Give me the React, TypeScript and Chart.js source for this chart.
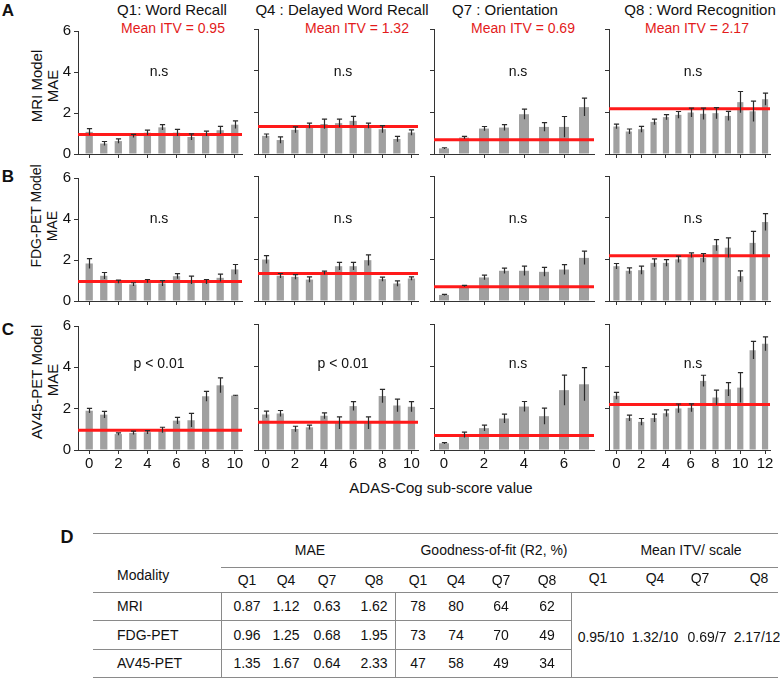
import React, { useEffect, useRef } from 'react';
import { Chart, registerables } from 'chart.js';

Chart.register(...registerables);

const FONT = '"Liberation Sans", Arial, Helvetica, sans-serif';
Chart.defaults.font.family = FONT;

// ---------- data ----------
const SCORES_Q1 = [0, 1, 2, 3, 4, 5, 6, 7, 8, 9, 10];
const SCORES_Q4 = [0, 1, 2, 3, 4, 5, 6, 7, 8, 9, 10];
const SCORES_Q7 = [0, 1, 2, 3, 4, 5, 6, 7];
const SCORES_Q8 = [0, 1, 2, 3, 4, 5, 6, 7, 8, 9, 10, 11, 12];

const X_TICKS_Q1 = [0, 2, 4, 6, 8, 10];
const X_TICKS_Q4 = [0, 2, 4, 6, 8, 10];
const X_TICKS_Q7 = [0, 2, 4, 6];
const X_TICKS_Q8 = [0, 2, 4, 6, 8, 10, 12];
const Y_TICKS = [0, 2, 4, 6];

const QUESTION_TITLES = ['Q1: Word Recall', 'Q4 : Delayed Word Recall', 'Q7 : Orientation', 'Q8 : Word Recognition'];
const MEAN_ITV = [0.95, 1.32, 0.69, 2.17];
const SCALE_MAX = [10, 10, 7, 12];

const MODEL_NAMES = ['MRI Model', 'FDG-PET Model', 'AV45-PET Model'];
const PANEL_LETTERS = ['A', 'B', 'C'];
const SIGNIFICANCE = [
  ['n.s', 'n.s', 'n.s', 'n.s'],
  ['n.s', 'n.s', 'n.s', 'n.s'],
  ['p < 0.01', 'p < 0.01', 'n.s', 'n.s'],
];

const MRI_Q1 = [1.08, 0.51, 0.63, 0.88, 1.04, 1.30, 1.04, 0.83, 1.00, 1.16, 1.43];
const MRI_Q1_ERR = [0.16, 0.10, 0.11, 0.08, 0.12, 0.13, 0.16, 0.15, 0.12, 0.19, 0.19];
const MRI_Q4 = [0.87, 0.67, 1.16, 1.36, 1.44, 1.48, 1.59, 1.36, 1.19, 0.72, 1.03];
const MRI_Q4_ERR = [0.09, 0.15, 0.14, 0.12, 0.23, 0.19, 0.22, 0.12, 0.17, 0.13, 0.13];
const MRI_Q7 = [0.27, 0.79, 1.22, 1.27, 1.91, 1.30, 1.30, 2.25];
const MRI_Q7_ERR = [0.03, 0.06, 0.10, 0.14, 0.24, 0.21, 0.50, 0.43];
const MRI_Q8 = [1.32, 1.08, 1.19, 1.54, 1.77, 1.88, 1.99, 1.93, 1.96, 1.83, 2.49, 2.05, 2.63];
const MRI_Q8_ERR = [0.11, 0.12, 0.14, 0.13, 0.12, 0.16, 0.21, 0.27, 0.27, 0.22, 0.51, 0.49, 0.29];

const FDG_Q1 = [1.83, 1.23, 0.94, 0.81, 0.97, 0.86, 1.21, 1.02, 0.94, 1.13, 1.54];
const FDG_Q1_ERR = [0.24, 0.16, 0.08, 0.08, 0.08, 0.13, 0.13, 0.19, 0.11, 0.18, 0.24];
const FDG_Q4 = [1.99, 1.21, 1.16, 1.03, 1.35, 1.67, 1.67, 1.96, 1.05, 0.84, 1.08];
const FDG_Q4_ERR = [0.19, 0.11, 0.11, 0.13, 0.08, 0.18, 0.18, 0.25, 0.10, 0.13, 0.08];
const FDG_Q7 = [0.29, 0.72, 1.13, 1.45, 1.45, 1.40, 1.51, 2.07];
const FDG_Q7_ERR = [0.03, 0.03, 0.11, 0.13, 0.22, 0.21, 0.24, 0.32];
const FDG_Q8 = [1.67, 1.45, 1.48, 1.83, 1.83, 2.00, 2.20, 2.07, 2.68, 2.56, 1.19, 2.79, 3.79];
const FDG_Q8_ERR = [0.13, 0.14, 0.19, 0.19, 0.16, 0.15, 0.11, 0.21, 0.27, 0.47, 0.26, 0.55, 0.40];

const AV45_Q1 = [1.90, 1.71, 0.77, 0.83, 0.86, 0.97, 1.42, 1.44, 2.60, 3.13, 2.63];
const AV45_Q1_ERR = [0.11, 0.16, 0.06, 0.08, 0.08, 0.13, 0.16, 0.33, 0.24, 0.36, 0.02];
const AV45_Q4 = [1.69, 1.74, 1.00, 1.08, 1.63, 1.29, 2.09, 1.29, 2.57, 2.12, 2.06];
const AV45_Q4_ERR = [0.16, 0.14, 0.13, 0.10, 0.14, 0.29, 0.21, 0.29, 0.32, 0.30, 0.24];
const AV45_Q7 = [0.32, 0.72, 1.04, 1.50, 2.07, 1.61, 2.85, 3.13];
const AV45_Q7_ERR = [0.03, 0.13, 0.14, 0.21, 0.24, 0.38, 0.72, 0.79];
const AV45_Q8 = [2.58, 1.52, 1.34, 1.52, 1.75, 1.98, 2.01, 3.29, 2.50, 2.89, 2.97, 4.75, 5.06];
const AV45_Q8_ERR = [0.16, 0.14, 0.16, 0.19, 0.16, 0.21, 0.19, 0.27, 0.35, 0.32, 0.71, 0.42, 0.33];

// table
const TABLE_MODALITIES = ['MRI', 'FDG-PET', 'AV45-PET'];
const TABLE_QUESTIONS = ['Q1', 'Q4', 'Q7', 'Q8'];
const TABLE_MAE_MRI = [0.87, 1.12, 0.63, 1.62];
const TABLE_MAE_FDG = [0.96, 1.25, 0.68, 1.95];
const TABLE_MAE_AV45 = [1.35, 1.67, 0.64, 2.33];
const TABLE_R2_MRI = [78, 80, 64, 62];
const TABLE_R2_FDG = [73, 74, 70, 49];
const TABLE_R2_AV45 = [47, 58, 49, 34];

// ---------- layout ----------
const SCORES = [SCORES_Q1, SCORES_Q4, SCORES_Q7, SCORES_Q8];
const X_TICKS = [X_TICKS_Q1, X_TICKS_Q4, X_TICKS_Q7, X_TICKS_Q8];
const VALUES = [
  [MRI_Q1, MRI_Q4, MRI_Q7, MRI_Q8],
  [FDG_Q1, FDG_Q4, FDG_Q7, FDG_Q8],
  [AV45_Q1, AV45_Q4, AV45_Q7, AV45_Q8],
];
const ERRORS = [
  [MRI_Q1_ERR, MRI_Q4_ERR, MRI_Q7_ERR, MRI_Q8_ERR],
  [FDG_Q1_ERR, FDG_Q4_ERR, FDG_Q7_ERR, FDG_Q8_ERR],
  [AV45_Q1_ERR, AV45_Q4_ERR, AV45_Q7_ERR, AV45_Q8_ERR],
];
const COLS = [
  { axisX: 78, endX: 242, xMin: -0.77, xMax: 10.5, titleX: 172, itvX: 173, sigX: 159 },
  { axisX: 258, endX: 418, xMin: -0.53, xMax: 10.45, titleX: 342, itvX: 357, sigX: 343 },
  { axisX: 434, endX: 594, xMin: -0.5, xMax: 7.5, titleX: 505, itvX: 523, sigX: 518 },
  { axisX: 609, endX: 770, xMin: -0.6, xMax: 12.4, titleX: 700, itvX: 697, sigX: 693 },
];
const ROWS = [
  { top: 29, h: 125, sigY: 71, letterY: 10, t1Y: 86, t2Y: 86, tSize: 15 },
  { top: 176, h: 125, sigY: 218, letterY: 176, t1Y: 216, t2Y: 226, tSize: 14 },
  { top: 324, h: 126, sigY: 363, letterY: 329, t1Y: 382, t2Y: 380, tSize: 15 },
];
const YW = 30;
const PT = 10;
const PR = 10;
const XH = 24;

const AXIS_COLOR = '#333';
const BAR_COLOR = '#a0a0a0';
const RED = '#ff1a1a';
const RED_TEXT = '#e31b1b';

type PanelProps = {
  row: number;
  col: number;
};

function Panel({ row, col }: PanelProps) {
  const ref = useRef<HTMLCanvasElement | null>(null);
  const c = COLS[col];
  const r = ROWS[row];
  const width = YW + (c.endX - c.axisX) + PR;
  const height = PT + r.h + XH;
  const left = c.axisX - YW;
  const top = r.top - PT;

  useEffect(() => {
    const values = VALUES[row][col];
    const errs = ERRORS[row][col];
    const itv = MEAN_ITV[col];
    const xTicks = X_TICKS[col];
    const errorBars = {
      id: 'errorBars',
      afterDatasetsDraw(chart: any) {
        const meta = chart.getDatasetMeta(1);
        const ys = chart.scales.y;
        const ctx = chart.ctx;
        ctx.save();
        ctx.strokeStyle = '#2a2a2a';
        ctx.lineWidth = 1.2;
        meta.data.forEach((el: any, i: number) => {
          const v = values[i];
          const e = errs[i];
          const x = Math.round(el.x) + 0.5;
          const yT = ys.getPixelForValue(v + e);
          const yB = ys.getPixelForValue(v - e);
          ctx.beginPath();
          ctx.moveTo(x, yB);
          ctx.lineTo(x, yT);
          ctx.moveTo(x - 2.6, yT);
          ctx.lineTo(x + 2.6, yT);
          ctx.stroke();
        });
        ctx.restore();
      },
    };
    const chart = new Chart(ref.current as HTMLCanvasElement, {
      type: 'bar',
      data: {
        labels: SCORES[col],
        datasets: [
          {
            type: 'line',
            data: [
              { x: c.xMin, y: itv },
              { x: c.xMax, y: itv },
            ],
            borderColor: RED,
            borderWidth: 3,
            pointRadius: 0,
            order: 0,
          } as any,
          {
            type: 'bar',
            data: values,
            backgroundColor: BAR_COLOR,
            borderWidth: 0,
            barPercentage: 0.5,
            categoryPercentage: 1.0,
            order: 1,
          } as any,
        ],
      },
      options: {
        animation: false,
        responsive: false,
        maintainAspectRatio: false,
        layout: { padding: { top: PT, right: PR, left: 0, bottom: 0 } },
        plugins: {
          legend: { display: false },
          tooltip: { enabled: false },
          title: { display: false },
        },
        scales: {
          x: {
            type: 'linear',
            min: c.xMin,
            max: c.xMax,
            offset: false,
            grid: {
              offset: false,
              drawOnChartArea: false,
              drawTicks: true,
              tickLength: 4,
              color: AXIS_COLOR,
              lineWidth: 1,
            },
            border: { display: true, color: AXIS_COLOR, width: 1 },
            afterBuildTicks: (s: any) => {
              s.ticks = xTicks.map((v) => ({ value: v }));
            },
            ticks: {
              display: row === 2,
              autoSkip: false,
              maxRotation: 0,
              padding: 1,
              color: '#111',
              font: { size: 15, family: FONT },
            },
            afterFit: (s: any) => {
              s.height = XH;
            },
          } as any,
          y: {
            type: 'linear',
            min: Y_TICKS[0],
            max: Y_TICKS[Y_TICKS.length - 1],
            grid: {
              drawOnChartArea: false,
              drawTicks: true,
              tickLength: 4,
              color: AXIS_COLOR,
              lineWidth: 1,
            },
            border: { display: true, color: AXIS_COLOR, width: 1 },
            afterBuildTicks: (s: any) => {
              s.ticks = Y_TICKS.map((v) => ({ value: v }));
            },
            ticks: {
              display: col === 0,
              padding: 3,
              color: '#111',
              font: { size: 15, family: FONT },
            },
            afterFit: (s: any) => {
              s.width = YW;
            },
          } as any,
        },
      },
      plugins: [errorBars],
    });
    return () => chart.destroy();
  }, [row, col]);

  return (
    <canvas
      ref={ref}
      width={width}
      height={height}
      style={{ position: 'absolute', left, top, width, height }}
    />
  );
}

type TextProps = {
  x: number;
  y: number;
  size?: number;
  color?: string;
  weight?: number | string;
  align?: 'center' | 'left';
  rotate?: boolean;
  children: React.ReactNode;
};

function Txt({ x, y, size = 14, color = '#111', weight = 400, align = 'center', rotate = false, children }: TextProps) {
  let transform = align === 'center' ? 'translate(-50%,-50%)' : 'translate(0,-50%)';
  if (rotate) transform = 'translate(-50%,-50%) rotate(-90deg)';
  return (
    <div
      style={{
        position: 'absolute',
        left: x,
        top: y,
        transform,
        fontSize: size,
        color,
        fontWeight: weight as any,
        fontFamily: FONT,
        lineHeight: 1,
        whiteSpace: 'nowrap',
      }}
    >
      {children}
    </div>
  );
}

function HLine({ x1, x2, y }: { x1: number; x2: number; y: number }) {
  return <div style={{ position: 'absolute', left: x1, top: y, width: x2 - x1, height: 1, background: '#8a8a8a' }} />;
}
function VLine({ x, y1, y2 }: { x: number; y1: number; y2: number }) {
  return <div style={{ position: 'absolute', left: x, top: y1, width: 1, height: y2 - y1, background: '#8a8a8a' }} />;
}

const TBL_MAE_X = [247, 286, 327, 374];
const TBL_R2_X = [418, 456, 501, 547];
const TBL_ITV_X = [598, 655, 700, 759];
const TBL_ITV_VAL_X = [601, 655, 707, 757];
const TBL_ROW_Y = [606, 635, 663];

function Table() {
  const maeRows = [TABLE_MAE_MRI, TABLE_MAE_FDG, TABLE_MAE_AV45];
  const r2Rows = [TABLE_R2_MRI, TABLE_R2_FDG, TABLE_R2_AV45];
  return (
    <>
      <Txt x={67} y={537} size={18} weight={700}>D</Txt>
      <HLine x1={93} x2={778} y={533} />
      <HLine x1={221} x2={778} y={567} />
      <HLine x1={93} x2={778} y={592} />
      <HLine x1={93} x2={571} y={620} />
      <HLine x1={93} x2={571} y={649} />
      <HLine x1={93} x2={778} y={677} />
      <VLine x={221} y1={592} y2={677} />
      <VLine x={395} y1={592} y2={677} />
      <VLine x={571} y1={592} y2={677} />
      <Txt x={310} y={550}>MAE</Txt>
      <Txt x={494} y={550}>Goodness-of-fit (R2, %)</Txt>
      <Txt x={691} y={550}>Mean ITV/ scale</Txt>
      <Txt x={117} y={575} align="left">Modality</Txt>
      {TABLE_QUESTIONS.map((q, i) => (
        <React.Fragment key={q}>
          <Txt x={TBL_MAE_X[i]} y={580}>{q}</Txt>
          <Txt x={TBL_R2_X[i]} y={580}>{q}</Txt>
          <Txt x={TBL_ITV_X[i]} y={578}>{q}</Txt>
          <Txt x={TBL_ITV_VAL_X[i]} y={637}>{`${MEAN_ITV[i].toFixed(2)}/${SCALE_MAX[i]}`}</Txt>
        </React.Fragment>
      ))}
      {TABLE_MODALITIES.map((m, ri) => (
        <React.Fragment key={m}>
          <Txt x={117} y={TBL_ROW_Y[ri]} align="left">{m}</Txt>
          {maeRows[ri].map((v, i) => (
            <Txt key={'m' + i} x={TBL_MAE_X[i]} y={TBL_ROW_Y[ri]}>{v.toFixed(2)}</Txt>
          ))}
          {r2Rows[ri].map((v, i) => (
            <Txt key={'r' + i} x={TBL_R2_X[i]} y={TBL_ROW_Y[ri]}>{String(v)}</Txt>
          ))}
        </React.Fragment>
      ))}
    </>
  );
}

export default function App() {
  return (
    <div style={{ position: 'absolute', left: 0, top: 0, width: 780, height: 679, background: '#fff', overflow: 'hidden' }}>
      {QUESTION_TITLES.map((t, ci) => (
        <React.Fragment key={t}>
          <Txt x={COLS[ci].titleX} y={9} size={15}>{t}</Txt>
          <Txt x={COLS[ci].itvX} y={28} size={14} color={RED_TEXT}>{`Mean ITV = ${MEAN_ITV[ci].toFixed(2)}`}</Txt>
        </React.Fragment>
      ))}
      {ROWS.map((r, ri) => (
        <React.Fragment key={ri}>
          <Txt x={8} y={r.letterY} size={17} weight={700}>{PANEL_LETTERS[ri]}</Txt>
          <Txt x={36} y={r.t1Y} size={r.tSize} rotate>{MODEL_NAMES[ri]}</Txt>
          <Txt x={52} y={r.t2Y} size={r.tSize} rotate>MAE</Txt>
          {COLS.map((c, ci) => (
            <React.Fragment key={ci}>
              <Panel row={ri} col={ci} />
              <Txt x={c.sigX} y={r.sigY} size={14}>{SIGNIFICANCE[ri][ci]}</Txt>
            </React.Fragment>
          ))}
        </React.Fragment>
      ))}
      <Txt x={441} y={487} size={15}>ADAS-Cog sub-score value</Txt>
      <Table />
    </div>
  );
}
